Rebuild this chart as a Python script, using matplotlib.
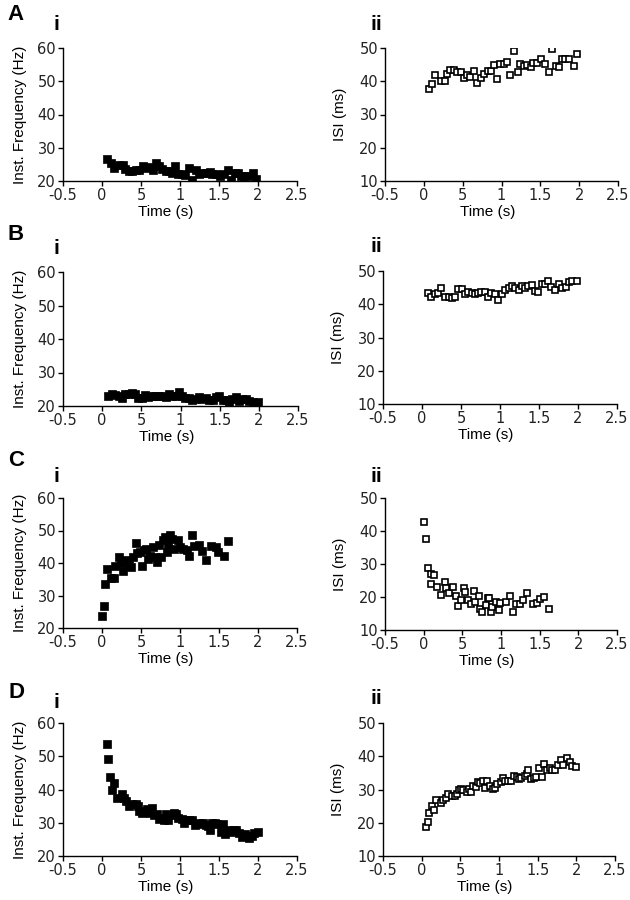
import matplotlib
matplotlib.use("Agg")
import matplotlib.pyplot as plt

plt.rcParams['font.family'] = ['Liberation Sans', 'DejaVu Sans']

W, H = 630, 900

# ---------------- data ----------------
x_ticks = [-0.5, 0, 0.5, 1, 1.5, 2, 2.5]
x_tick_labels = ["-0.5", "0", "5", "1", "1.5", "2", "2.5"]
freq_ticks = [20, 30, 40, 50, 60]
isi_ticks = [10, 20, 30, 40, 50]

a_time = [0.07, 0.11, 0.15, 0.22, 0.27, 0.30, 0.34, 0.39, 0.43, 0.48, 0.52, 0.56, 0.60, 0.65, 0.69,
          0.73, 0.77, 0.82, 0.86, 0.90, 0.94, 0.98, 1.03, 1.07, 1.11, 1.16, 1.21, 1.24, 1.29, 1.33,
          1.38, 1.41, 1.46, 1.51, 1.56, 1.61, 1.65, 1.70, 1.74, 1.78, 1.82, 1.87, 1.93, 1.97]
a_isi = [37.6, 39.2, 42.0, 40.2, 40.2, 42.3, 43.3, 43.5, 42.9, 42.7, 41.0, 42.0, 41.3, 43.0, 39.4,
         40.9, 42.3, 43.2, 43.2, 44.9, 40.8, 45.3, 45.3, 45.7, 41.8, 49.0, 42.9, 45.3, 44.7, 44.8,
         44.2, 45.5, 45.5, 46.8, 45.2, 42.7, 49.6, 44.5, 44.4, 46.8, 46.8, 46.8, 44.5, 48.2]
a_freq = [26.6, 25.5, 23.8, 24.9, 24.9, 23.6, 23.1, 23.0, 23.3, 23.4, 24.4, 23.8, 24.2, 23.3, 25.4,
          24.4, 23.6, 23.1, 23.1, 22.3, 24.5, 22.1, 22.1, 21.9, 23.9, 20.4, 23.3, 22.1, 22.4, 22.3,
          22.6, 22.0, 22.0, 21.4, 22.1, 23.4, 20.2, 22.5, 22.5, 21.4, 21.4, 21.4, 22.5, 20.7]

b_time = [0.08, 0.12, 0.17, 0.21, 0.25, 0.29, 0.34, 0.38, 0.42, 0.46, 0.51, 0.55, 0.59, 0.64, 0.68,
          0.72, 0.76, 0.81, 0.85, 0.89, 0.94, 0.98, 1.02, 1.06, 1.11, 1.15, 1.19, 1.24, 1.28, 1.32,
          1.36, 1.41, 1.45, 1.49, 1.54, 1.58, 1.62, 1.66, 1.71, 1.75, 1.79, 1.84, 1.88, 1.92, 1.99]
b_isi = [43.3, 42.2, 43.0, 43.5, 44.8, 42.3, 42.3, 42.0, 42.3, 44.7, 44.6, 43.0, 43.8, 43.3, 43.2,
         43.5, 43.6, 43.8, 42.3, 43.5, 43.2, 41.2, 43.2, 44.4, 44.8, 45.6, 45.0, 44.3, 45.5, 44.8,
         45.6, 45.8, 44.0, 43.6, 46.1, 46.1, 47.1, 45.1, 44.2, 46.2, 45.0, 45.2, 46.6, 47.0, 47.0]
b_freq = [23.1, 23.7, 23.3, 23.0, 22.3, 23.6, 23.6, 23.8, 23.6, 22.4, 22.4, 23.3, 22.8, 23.1, 23.1,
          23.0, 22.9, 22.8, 23.6, 23.0, 23.1, 24.3, 23.1, 22.5, 22.3, 21.9, 22.2, 22.6, 22.0, 22.3,
          21.9, 21.8, 22.7, 22.9, 21.7, 21.7, 21.2, 22.2, 22.6, 21.6, 22.2, 22.1, 21.5, 21.3, 21.3]

c_freq_time = [0.00, 0.02, 0.04, 0.07, 0.12, 0.15, 0.17, 0.22, 0.24, 0.27, 0.31, 0.34, 0.37, 0.40,
               0.43, 0.45, 0.49, 0.51, 0.54, 0.57, 0.59, 0.62, 0.66, 0.68, 0.70, 0.73, 0.76, 0.78,
               0.81, 0.83, 0.85, 0.87, 0.90, 0.92, 0.97, 1.00, 1.04, 1.09, 1.12, 1.15, 1.18, 1.24,
               1.28, 1.33, 1.40, 1.46, 1.49, 1.56, 1.61]
c_freq = [23.8, 26.9, 33.4, 38.1, 35.3, 35.4, 39.2, 41.8, 39.9, 37.5, 40.8, 39.5, 38.9, 41.8,
          46.1, 43.0, 43.5, 39.2, 43.9, 44.4, 41.1, 42.3, 44.9, 41.8, 40.3, 45.4, 42.0, 47.1,
          48.0, 43.3, 45.4, 48.5, 47.5, 44.4, 47.1, 44.9, 44.4, 43.9, 42.3, 48.5, 45.1, 45.4,
          43.7, 41.0, 45.1, 44.9, 43.3, 42.3, 46.9]

c_isi_time = [0.00, 0.03, 0.05, 0.09, 0.10, 0.14, 0.17, 0.23, 0.28, 0.29, 0.33, 0.38, 0.42, 0.44,
              0.48, 0.52, 0.54, 0.57, 0.61, 0.65, 0.67, 0.71, 0.73, 0.76, 0.80, 0.83, 0.85, 0.87,
              0.89, 0.93, 0.97, 0.99, 1.07, 1.12, 1.15, 1.20, 1.25, 1.29, 1.33, 1.41, 1.46, 1.50,
              1.56, 1.62]
c_isi = [42.7, 37.5, 28.8, 23.9, 27.1, 26.8, 23.1, 20.6, 24.6, 22.6, 21.3, 23.1, 20.4, 17.4,
         19.1, 22.8, 21.6, 19.1, 17.8, 21.9, 18.4, 20.4, 16.4, 15.5, 17.7, 19.7, 19.8, 15.5,
         17.1, 18.6, 16.2, 18.3, 18.4, 20.4, 15.5, 17.9, 17.8, 19.1, 21.3, 17.9, 18.1, 19.3,
         20.1, 16.5]

d_time = [0.06, 0.08, 0.10, 0.13, 0.16, 0.19, 0.25, 0.28, 0.31, 0.34, 0.39, 0.43, 0.46, 0.48, 0.51,
          0.54, 0.58, 0.61, 0.64, 0.67, 0.70, 0.73, 0.76, 0.79, 0.82, 0.85, 0.89, 0.92, 0.95, 0.98,
          1.02, 1.05, 1.08, 1.12, 1.15, 1.19, 1.23, 1.26, 1.29, 1.33, 1.36, 1.38, 1.41, 1.45, 1.48,
          1.52, 1.55, 1.58, 1.62, 1.66, 1.69, 1.72, 1.76, 1.80, 1.83, 1.88, 1.92, 1.95, 2.00]
d_isi = [18.6, 20.3, 22.8, 25.0, 23.8, 26.8, 26.0, 26.8, 27.3, 28.6, 28.1, 28.0, 28.6, 29.8, 30.3,
         30.0, 29.3, 30.3, 29.1, 31.0, 30.8, 32.3, 32.0, 32.5, 30.6, 32.6, 31.0, 30.3, 30.6, 31.8,
         32.2, 33.6, 32.5, 32.6, 32.5, 34.0, 33.8, 33.3, 33.5, 34.0, 34.6, 35.8, 33.3, 33.5, 33.8,
         36.6, 33.8, 37.6, 36.0, 36.6, 36.0, 36.0, 37.3, 39.0, 37.5, 39.6, 38.3, 37.0, 36.8]
d_freq = [53.8, 49.3, 43.9, 40.0, 42.0, 37.3, 38.5, 37.3, 36.6, 35.0, 35.6, 35.7, 35.0, 33.6, 33.0,
          33.3, 34.1, 33.0, 34.4, 32.3, 32.5, 31.0, 31.3, 30.8, 32.7, 30.7, 32.3, 33.0, 32.7, 31.4,
          31.1, 29.8, 30.8, 30.7, 30.8, 29.4, 29.6, 30.0, 29.9, 29.4, 28.9, 27.9, 30.0, 29.9, 29.6,
          27.3, 29.6, 26.6, 27.8, 27.3, 27.8, 27.8, 26.8, 25.6, 26.7, 25.3, 26.1, 27.0, 27.2]

panel_letters = ["A", "B", "C", "D"]
sub_labels = ["i", "ii"]
freq_label = "Inst. Frequency (Hz)"
isi_label = "ISI (ms)"
time_label = "Time (s)"

# ---------------- layout ----------------
fig = plt.figure(figsize=(6.3, 9.0), dpi=100)


def fx(px):
    return px / W


def fy(py):
    return 1 - py / H


def make_axes(l, r, t, b):
    return fig.add_axes([fx(l), fy(b), fx(r) - fx(l), (b - t) / H])


# (left, right, top, bottom) in pixels
boxes = [
    [(63, 297, 48, 181), (385, 618, 48, 181)],
    [(63, 298, 272, 406), (383, 617, 271, 404)],
    [(63, 297, 498, 628), (385, 617, 498, 630)],
    [(63, 297, 723, 856), (383, 615, 723, 856)],
]
letter_y = [15, 235, 461, 692]
sub_y = [[24, 24], [248, 247], [477, 477], [702, 698]]

freq_data = [(a_time, a_freq), (b_time, b_freq), (c_freq_time, c_freq), (d_time, d_freq)]
isi_data = [(a_time, a_isi), (b_time, b_isi), (c_isi_time, c_isi), (d_time, d_isi)]

tick_fs = 10.5
label_fs = 11

for row in range(4):
    for col in range(2):
        l, r, t, b = boxes[row][col]
        ax = make_axes(l, r, t, b)
        if col == 0:
            xs, ys = freq_data[row]
            ax.plot(xs, ys, linestyle='none', marker='s', markersize=5.3,
                    markerfacecolor='black', markeredgecolor='black', markeredgewidth=0.5)
            ax.set_ylim(20, 60)
            ax.set_yticks(freq_ticks)
            ylab = freq_label
            ylab_x = 20
        else:
            xs, ys = isi_data[row]
            ax.plot(xs, ys, linestyle='none', marker='s', markersize=5.0,
                    markerfacecolor='white', markeredgecolor='black', markeredgewidth=1.2)
            ax.set_ylim(10, 50)
            ax.set_yticks(isi_ticks)
            ylab = isi_label
            ylab_x = l - 45
        ax.set_xlim(-0.5, 2.5)
        ax.set_xticks(x_ticks)
        ax.set_xticklabels(x_tick_labels)
        for s in ['top', 'right']:
            ax.spines[s].set_visible(False)
        for s in ['left', 'bottom']:
            ax.spines[s].set_linewidth(1.0)
        ax.tick_params(axis='both', direction='out', length=3.5, width=1.0,
                       labelsize=tick_fs, pad=1.5, colors='black')
        for lab in ax.get_xticklabels() + ax.get_yticklabels():
            lab.set_fontfamily('DejaVu Sans')
            lab.set_color('#222222')
        # axis labels
        fig.text(fx((l + r) / 2 - 14), fy(b + 31), time_label, ha='center', va='center',
                 fontsize=label_fs)
        fig.text(fx(ylab_x), fy((t + b) / 2), ylab, ha='center', va='center',
                 rotation=90, fontsize=label_fs)
        # sub-panel label
        sx = 56 if col == 0 else 376
        fig.text(fx(sx), fy(sub_y[row][col]), sub_labels[col], ha='center', va='center',
                 fontsize=15, fontweight='bold')
    fig.text(fx(16), fy(letter_y[row]), panel_letters[row], ha='center', va='center',
             fontsize=16, fontweight='bold')

fig.savefig("out.png", dpi=100, facecolor='white')
